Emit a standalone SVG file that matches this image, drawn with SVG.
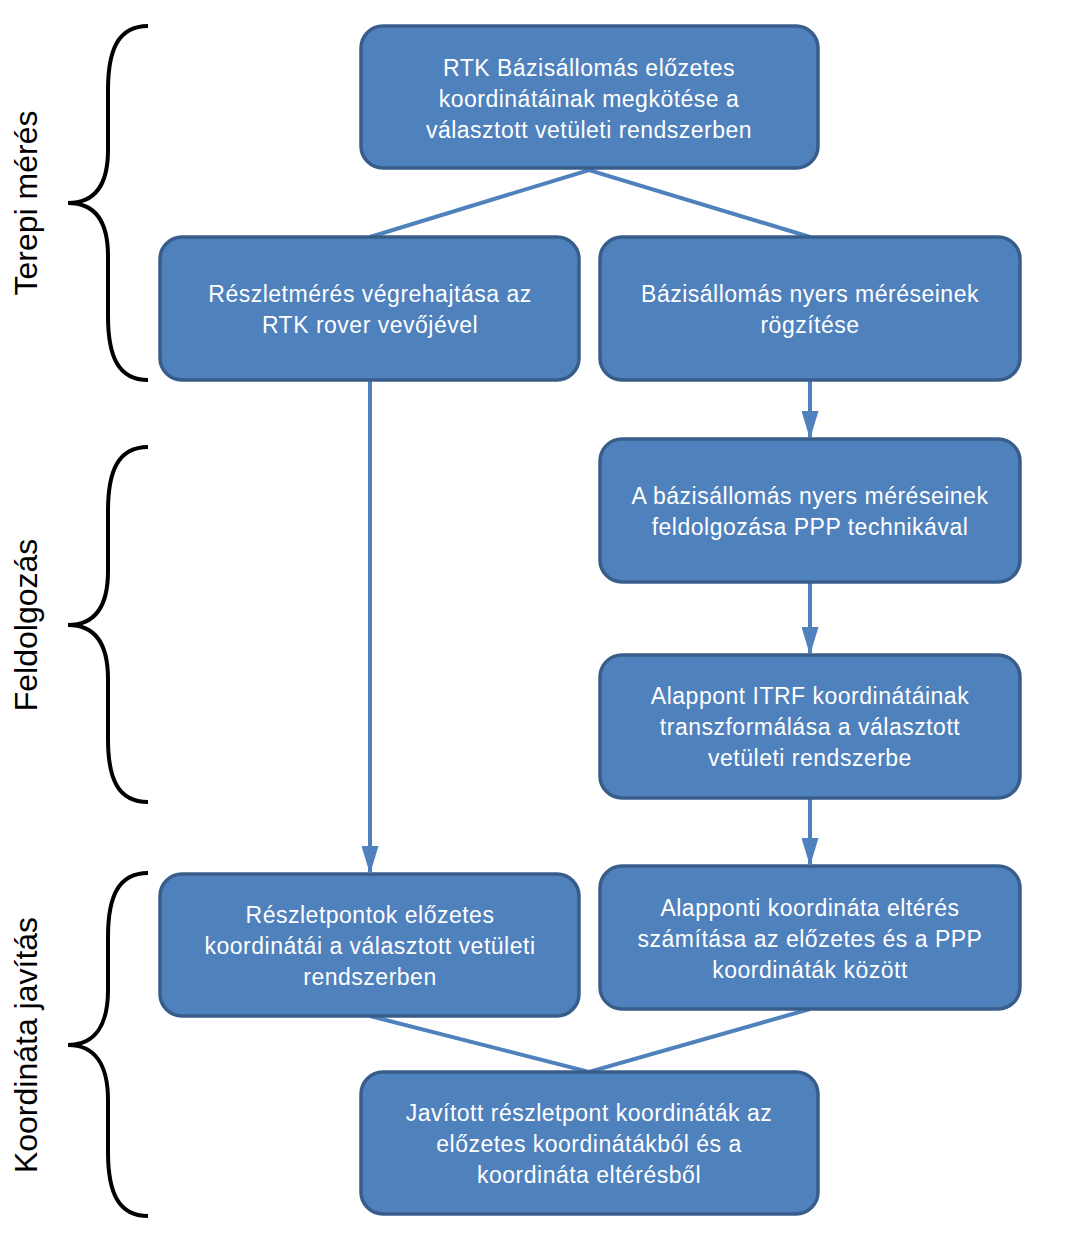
<svg xmlns="http://www.w3.org/2000/svg" width="1069" height="1243" viewBox="0 0 1069 1243">
<style>
.box{fill:#4F81BD;stroke:#385D8A;stroke-width:3.5}
.t{font-family:"Liberation Sans",Arial,sans-serif;font-size:23px;letter-spacing:0.5px;fill:#fff;text-anchor:middle}
.c{stroke:#4F81BD;stroke-width:4;fill:none}
.br{stroke:#000;stroke-width:4;fill:none}
.lab{font-family:"Liberation Sans",Arial,sans-serif;font-size:32px;fill:#000;text-anchor:middle}
</style>
<defs>
<marker id="ah" viewBox="0 0 28 17" refX="26" refY="8.5" markerWidth="28" markerHeight="17" markerUnits="userSpaceOnUse" orient="auto">
<path d="M0,0 L28,8.5 L0,17 z" fill="#4F81BD"/>
</marker>
</defs>
<rect width="1069" height="1243" fill="#fff"/>
<g id="connectors">
<polyline class="c" points="370,237 589,170 810,237"/>
<line class="c" x1="370" y1="380" x2="370" y2="872" marker-end="url(#ah)"/>
<line class="c" x1="810" y1="380" x2="810" y2="437" marker-end="url(#ah)"/>
<line class="c" x1="810" y1="582" x2="810" y2="653" marker-end="url(#ah)"/>
<line class="c" x1="810" y1="798" x2="810" y2="864" marker-end="url(#ah)"/>
<polyline class="c" points="370,1016 589,1072 810,1009"/>
</g>
<g id="brace1">
<path class="br" d="M148,26 C118,26 108,50 108,90 L108,150 C108,185 95,203 68,203 C95,203 108,221 108,256 L108,316 C108,356 118,380 148,380"/>
<text class="lab" transform="translate(37,203) rotate(-90)">Terepi mérés</text>
</g>
<g id="brace2">
<path class="br" d="M148,447 C118,447 108,471 108,511 L108,571 C108,606 95,625 68,625 C95,625 108,644 108,679 L108,739 C108,779 118,802 148,802"/>
<text class="lab" transform="translate(37,625) rotate(-90)">Feldolgozás</text>
</g>
<g id="brace3">
<path class="br" d="M148,873 C118,873 108,897 108,937 L108,990 C108,1025 95,1045 68,1045 C95,1045 108,1065 108,1100 L108,1152 C108,1192 118,1216 148,1216"/>
<text class="lab" transform="translate(37,1045) rotate(-90)">Koordináta javítás</text>
</g>
<g id="n1">
<rect class="box" x="361" y="26" width="457" height="142" rx="22"/>
<text class="t" x="589" y="76">RTK Bázisállomás előzetes</text>
<text class="t" x="589" y="107">koordinátáinak megkötése a</text>
<text class="t" x="589" y="138">választott vetületi rendszerben</text>
</g>
<g id="n2">
<rect class="box" x="160" y="237" width="419" height="143" rx="22"/>
<text class="t" x="370" y="302">Részletmérés végrehajtása az</text>
<text class="t" x="370" y="333">RTK rover vevőjével</text>
</g>
<g id="n3">
<rect class="box" x="600" y="237" width="420" height="143" rx="22"/>
<text class="t" x="810" y="302">Bázisállomás nyers méréseinek</text>
<text class="t" x="810" y="333">rögzítése</text>
</g>
<g id="n4">
<rect class="box" x="600" y="439" width="420" height="143" rx="22"/>
<text class="t" x="810" y="504">A bázisállomás nyers méréseinek</text>
<text class="t" x="810" y="535">feldolgozása PPP technikával</text>
</g>
<g id="n5">
<rect class="box" x="600" y="655" width="420" height="143" rx="22"/>
<text class="t" x="810" y="704">Alappont ITRF koordinátáinak</text>
<text class="t" x="810" y="735">transzformálása a választott</text>
<text class="t" x="810" y="766">vetületi rendszerbe</text>
</g>
<g id="n6">
<rect class="box" x="160" y="874" width="419" height="142" rx="22"/>
<text class="t" x="370" y="923">Részletpontok előzetes</text>
<text class="t" x="370" y="954">koordinátái a választott vetületi</text>
<text class="t" x="370" y="985">rendszerben</text>
</g>
<g id="n7">
<rect class="box" x="600" y="866" width="420" height="143" rx="22"/>
<text class="t" x="810" y="916">Alapponti koordináta eltérés</text>
<text class="t" x="810" y="947">számítása az előzetes és a PPP</text>
<text class="t" x="810" y="978">koordináták között</text>
</g>
<g id="n8">
<rect class="box" x="361" y="1072" width="457" height="142" rx="22"/>
<text class="t" x="589" y="1121">Javított részletpont koordináták az</text>
<text class="t" x="589" y="1152">előzetes koordinátákból és a</text>
<text class="t" x="589" y="1183">koordináta eltérésből</text>
</g>
</svg>
